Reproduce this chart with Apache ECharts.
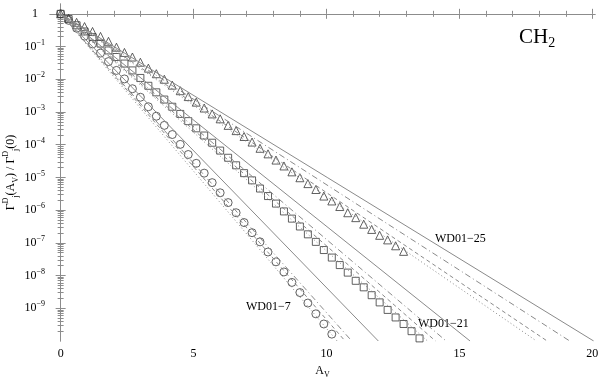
<!DOCTYPE html>
<html>
<head>
<meta charset="utf-8">
<script src="https://cdn.jsdelivr.net/npm/echarts@6.0.0/dist/echarts.min.js"></script>
<style>
	html, body { margin: 0; padding: 0; background: #fff; }
	#chart { width: 600px; height: 380px; }
</style>
</head>
<body>
<div id="chart"></div>
<script>

// A_V sample points (shared by all three models)
const avPoints = [
	0, 0.3, 0.6, 0.9, 1.2, 1.5, 1.8, 2.1, 2.4, 2.7,
	3.0, 3.3, 3.6, 3.9, 4.2, 4.5, 4.8, 5.1, 5.4, 5.7,
	6.0, 6.3, 6.6, 6.9, 7.2, 7.5, 7.8, 8.1, 8.4, 8.7,
	9.0, 9.3, 9.6, 9.9, 10.2, 10.5, 10.8, 11.1, 11.4, 11.7,
	12.0, 12.3, 12.6, 12.9, 13.2, 13.5
];

// log10 of the rate ratio
const wd7Log = [
	0, -0.20, -0.44, -0.68, -0.92, -1.20, -1.46, -1.73, -1.99, -2.29,
	-2.55, -2.84, -3.13, -3.41, -3.69, -3.99, -4.30, -4.57, -4.87, -5.16,
	-5.47, -5.77, -6.08, -6.38, -6.69, -6.97, -7.28, -7.58, -7.89, -8.21,
	-8.52, -8.84, -9.17, -9.48, -9.79
];
const wd21Log = [
	0, -0.16, -0.35, -0.54, -0.71, -0.91, -1.12, -1.32, -1.52, -1.73,
	-1.96, -2.20, -2.40, -2.62, -2.84, -3.06, -3.28, -3.50, -3.72, -3.94,
	-4.18, -4.40, -4.63, -4.87, -5.09, -5.34, -5.57, -5.80, -6.04, -6.26,
	-6.50, -6.74, -6.97, -7.22, -7.45, -7.68, -7.91, -8.16, -8.36, -8.60,
	-8.82, -9.05, -9.28, -9.48, -9.70, -9.92
];
const wd25Log = [
	0, -0.13, -0.26, -0.39, -0.54, -0.69, -0.84, -1.02, -1.18, -1.32,
	-1.48, -1.66, -1.83, -2.00, -2.18, -2.35, -2.53, -2.70, -2.88, -3.06,
	-3.21, -3.41, -3.57, -3.75, -3.92, -4.11, -4.28, -4.47, -4.65, -4.83,
	-5.01, -5.19, -5.37, -5.57, -5.72, -5.89, -6.08, -6.23, -6.43, -6.59,
	-6.77, -6.91, -7.09, -7.26
];

// fits: start at (0, 1), reach 1e-10 at these A_V
// order: solid, dash-dot, dashed, dotted
const fitStartLog = 0;
const fitEndLog = -10;
const wd7FitEnds = [11.95, 10.95, 10.7, 10.4];
const wd21FitEnds = [15.4, 14.5, 14.1, 13.8];
const wd25FitEnds = [20.05, 19.15, 18.3, 17.9];

// axis ticks
const xMajorTicks = [0, 5, 10, 15, 20];
const xMinorTicks = [1, 2, 3, 4, 6, 7, 8, 9, 11, 12, 13, 14, 16, 17, 18, 19];
const yDecades = [0, -1, -2, -3, -4, -5, -6, -7, -8, -9];

const FONT = '"Liberation Serif", "DejaVu Serif", serif';
const frameColor = '#8c8c8c';
const fitColor = '#8a8a8a';
const markColor = '#3a3a3a';

// minor ticks of the log axis: k * 10^n, k = 2..9
const yMinorTicks = [];
for (let n = -10; n <= 0; n++) {
	for (let k = 2; k <= 9; k++) {
		let v = n + Math.log10(k);
		if (v > -10 && v < 0.3) yMinorTicks.push(v);
	}
}

const xRange = { min: -0.4, max: 20.1 };
const yRange = { min: -10, max: 0.3 };

//x axis builder
const makeX = (position, ticks, len, withLabels, withLine) => ({
	type: 'value',
	position: position,
	min: xRange.min,
	max: xRange.max,
	splitLine: { show: false },
	axisLine: { show: withLine, lineStyle: { color: frameColor, width: 1 } },
	axisTick: {
		show: true, inside: true, length: len,
		customValues: ticks,
		lineStyle: { color: frameColor, width: 1 }
	},
	axisLabel: {
		show: withLabels,
		customValues: ticks,
		margin: 7,
		fontFamily: FONT, fontSize: 12, color: '#000'
	},
	name: withLabels ? '{t|A}{sub|V}' : '',
	nameLocation: 'middle',
	nameGap: 22,
	nameMoveOverlap: false,
	nameTextStyle: {
		fontFamily: FONT,
		rich: {
			t: { fontFamily: FONT, fontSize: 12, color: '#000', lineHeight: 16 },
			sub: { fontFamily: FONT, fontSize: 8, color: '#000', verticalAlign: 'bottom' }
		}
	}
});

//y axis builder
const makeY = (position, ticks, len, withLabels, withLine) => ({
	type: 'value',
	position: position,
	min: yRange.min,
	max: yRange.max,
	splitLine: { show: false },
	axisLine: { show: withLine, lineStyle: { color: frameColor, width: 1 } },
	axisTick: {
		show: true, inside: true, length: len,
		customValues: ticks,
		lineStyle: { color: frameColor, width: 1 }
	},
	axisLabel: {
		show: withLabels,
		customValues: ticks,
		margin: 5,
		formatter: function (v) {
			let n = Math.round(v);
			if (n === 0) return '{one|1}';
			return '{b|10}{s|\u2212' + (-n) + '}';
		},
		rich: {
			one: { fontFamily: FONT, fontSize: 12, color: '#000', padding: [0, 7, 0, 0] },
			b: { fontFamily: FONT, fontSize: 12, color: '#000', lineHeight: 16 },
			s: { fontFamily: FONT, fontSize: 8, color: '#000', verticalAlign: 'top' }
		}
	},
	name: withLabels ? '{t|\u0393}{sup|D}{sub|j}{t|(A}{sub|V}{t|) / \u0393}{sup|D}{sub|j}{t|(0)}' : '',
	nameLocation: 'middle',
	nameRotate: 90,
	nameGap: 30,
	nameMoveOverlap: false,
	nameTextStyle: {
		fontFamily: FONT,
		rich: {
			t: { fontFamily: FONT, fontSize: 12, color: '#000', lineHeight: 18 },
			sup: { fontFamily: FONT, fontSize: 8, color: '#000', verticalAlign: 'top' },
			sub: { fontFamily: FONT, fontSize: 8, color: '#000', verticalAlign: 'bottom' }
		}
	}
});

const dashStyles = [
	'solid',
	[6, 3, 1, 3],
	[4, 3],
	[1, 2.5]
];

const fitSeries = (ends) => ends.map((end, i) => ({
	type: 'line',
	showSymbol: false,
	silent: true,
	data: [[0, fitStartLog], [end, fitEndLog]],
	lineStyle: { color: fitColor, width: 1, type: dashStyles[i] }
}));

const pointSeries = (values, symbol, size) => ({
	type: 'scatter',
	symbol: symbol,
	symbolSize: size,
	data: values.map((v, i) => [avPoints[i], v]),
	itemStyle: { color: 'rgba(0,0,0,0)', borderColor: markColor, borderWidth: 1 }
});

const option = {
	animation: false,
	backgroundColor: '#fff',
	grid: {
		left: 50, right: 5, top: 4, bottom: 39,
		containLabel: false,
		outerBoundsMode: 'none'
	},
	// positions already used get flipped by echarts, minor tick axes land on both sides
	xAxis: [
		makeX('bottom', xMajorTicks, 5, true, true),
		makeX('top', xMajorTicks, 5, false, true),
		makeX('bottom', xMinorTicks, 3, false, false),
		makeX('top', xMinorTicks, 3, false, false)
	],
	yAxis: [
		makeY('left', yDecades, 5, true, true),
		makeY('right', yDecades, 5, false, true),
		makeY('left', yMinorTicks, 3, false, false),
		makeY('right', yMinorTicks, 3, false, false)
	],
	series: [
		...fitSeries(wd7FitEnds),
		...fitSeries(wd21FitEnds),
		...fitSeries(wd25FitEnds),
		pointSeries(wd7Log, 'circle', 8),
		pointSeries(wd21Log, 'rect', 7),
		pointSeries(wd25Log, 'triangle', 8)
	],
	graphic: [
		{
			type: 'text', left: 519, top: 27,
			style: {
				text: '{m|CH}{s|2}',
				rich: {
					m: { fontFamily: FONT, fontSize: 21, fill: '#000', lineHeight: 26 },
					s: { fontFamily: FONT, fontSize: 14, fill: '#000', verticalAlign: 'bottom' }
				}
			}
		},
		{ type: 'text', left: 246, top: 301, style: { text: 'WD01\u22127', font: '12px ' + FONT, fill: '#000' } },
		{ type: 'text', left: 418, top: 318, style: { text: 'WD01\u221221', font: '12px ' + FONT, fill: '#000' } },
		{ type: 'text', left: 435, top: 233, style: { text: 'WD01\u221225', font: '12px ' + FONT, fill: '#000' } }
	]
};

const chart = echarts.init(document.getElementById('chart'), null, { renderer: 'canvas' });
chart.setOption(option);

</script>
</body>
</html>
